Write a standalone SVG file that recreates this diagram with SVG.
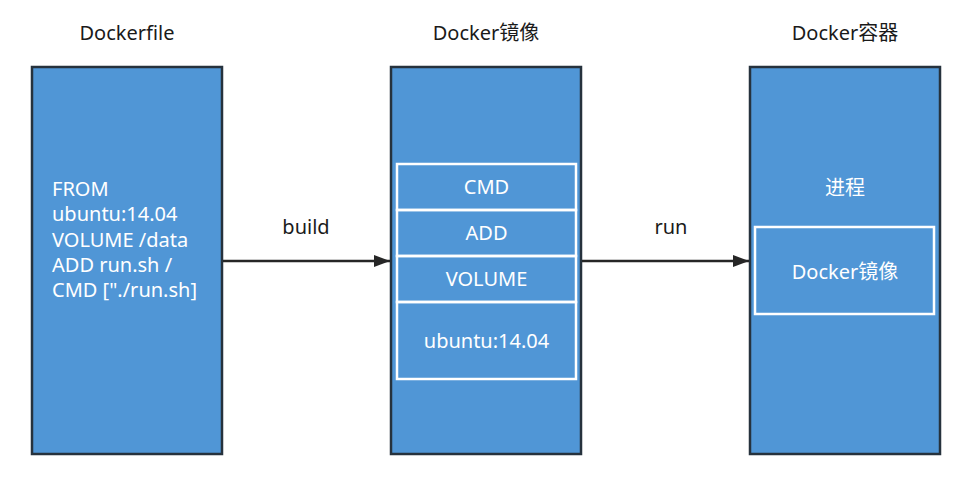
<svg xmlns="http://www.w3.org/2000/svg" width="970" height="478" viewBox="0 0 970 478">
<defs>
<style>
.t{font-family:"Noto Sans","Noto Sans CJK SC",sans-serif;font-size:20px;}
.title{fill:#1a1a1a;text-anchor:middle;}
.w{fill:#ffffff;}
.c{text-anchor:middle;}
.box{fill:#5096d6;stroke:#26323d;stroke-width:2.5;}
.in{fill:none;stroke:#ffffff;stroke-width:2.5;}
.edge{stroke:#262626;stroke-width:2.5;fill:none;marker-end:url(#arr);}
</style>
<marker id="arr" viewBox="0 0 16 12" refX="16" refY="6" markerWidth="16" markerHeight="12" markerUnits="userSpaceOnUse" orient="auto">
<path d="M0,0 L16,6 L0,12 z" fill="#262626"/>
</marker>
</defs>
<rect width="970" height="478" fill="#ffffff"/>
<g id="dockerfile">
<text class="t title" x="127" y="40">Dockerfile</text>
<rect class="box" x="32" y="67" width="190" height="387"/>
<text class="t w" x="52" y="196">FROM</text>
<text class="t w" x="52" y="221">ubuntu:14.04</text>
<text class="t w" x="52" y="247">VOLUME /data</text>
<text class="t w" x="52" y="272">ADD run.sh /</text>
<text class="t w" x="52" y="297">CMD ["./run.sh]</text>
</g>
<g id="image">
<text class="t title" x="486" y="40">Docker镜像</text>
<rect class="box" x="391" y="67" width="190" height="387"/>
<rect class="in" x="397" y="164" width="179" height="46"/>
<rect class="in" x="397" y="210" width="179" height="46"/>
<rect class="in" x="397" y="256" width="179" height="46"/>
<rect class="in" x="397" y="302" width="179" height="77"/>
<text class="t w c" x="486.5" y="194">CMD</text>
<text class="t w c" x="486.5" y="240">ADD</text>
<text class="t w c" x="486.5" y="286">VOLUME</text>
<text class="t w c" x="486.5" y="348">ubuntu:14.04</text>
</g>
<g id="container">
<text class="t title" x="845" y="40">Docker容器</text>
<rect class="box" x="750" y="67" width="190" height="387"/>
<text class="t w c" x="845" y="195">进程</text>
<rect class="in" x="755" y="227" width="179" height="87"/>
<text class="t w c" x="845" y="279">Docker镜像</text>
</g>
<g id="connectors">
<line class="edge" x1="223" y1="261" x2="390" y2="261"/>
<line class="edge" x1="582" y1="261" x2="749" y2="261"/>
<text class="t title" x="306" y="234">build</text>
<text class="t title" x="671" y="234">run</text>
</g>
</svg>
